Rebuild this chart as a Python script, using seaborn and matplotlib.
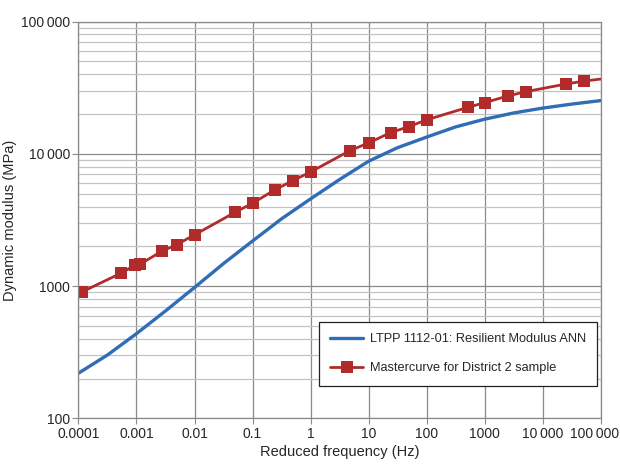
import numpy as np
import seaborn as sns
import matplotlib.pyplot as plt
from matplotlib.ticker import FixedLocator, FuncFormatter, LogLocator, NullFormatter
from matplotlib.transforms import ScaledTranslation

# ANN curve (LTPP 1112-01), read at half-decade steps
ann_freq = [0.0001, 0.000316, 0.001, 0.00316, 0.01, 0.0316, 0.1, 0.316, 1, 3.16,
            10, 31.6, 100, 316, 1000, 3160, 10000, 31600, 100000]
ann_mod = [220, 302, 438, 650, 978, 1483, 2195, 3230, 4570, 6400,
           8800, 11150, 13400, 16000, 18300, 20400, 22200, 23800, 25300]

# mastercurve for district 2 sample
mc_freq = [0.000115, 0.00055, 0.00093, 0.00114, 0.00275, 0.0049, 0.01, 0.05, 0.1,
           0.24, 0.49, 1.0, 4.8, 10, 24, 50, 100, 515, 1000, 2500, 5200,
           25700, 52500, 100000]
mc_mod = [906, 1259, 1438, 1463, 1842, 2058, 2444, 3620, 4235, 5340, 6270, 7300,
          10600, 12100, 14500, 16100, 18100, 22500, 24400, 27400, 29600,
          33800, 35600, 36800]
mc_marked = [True] * 23 + [False]

sns.set_style("white")
plt.rcParams['font.family'] = ['Liberation Sans Narrow', 'Liberation Sans', 'DejaVu Sans']

fig = plt.figure(figsize=(6.2, 4.72), dpi=100)
ax = fig.add_axes([0.1266, 0.1134, 0.842, 0.8407])

blue = '#2f6db5'
red = '#b22b2b'

sns.lineplot(x=ann_freq, y=ann_mod, ax=ax, color=blue, linewidth=2.4,
             label='LTPP 1112-01: Resilient Modulus ANN')
sns.lineplot(x=mc_freq, y=mc_mod, ax=ax, color=red, linewidth=2.0, marker='s',
             markersize=8.5, markeredgewidth=0, markevery=mc_marked,
             label='Mastercurve for District 2 sample')

ax.set_xscale('log')
ax.set_yscale('log')
ax.set_xlim(0.0001, 100000)
ax.set_ylim(100, 100000)

def fmt(v, pos=None):
    if v >= 10000:
        return f"{v:,.0f}".replace(',', '\u2009')
    if v >= 1:
        return f"{v:.0f}"
    return f"{v:.10f}".rstrip('0')

xt = [10.0 ** k for k in range(-4, 6)]
ax.xaxis.set_major_locator(FixedLocator(xt))
ax.xaxis.set_major_formatter(FuncFormatter(fmt))
ax.xaxis.set_minor_locator(FixedLocator([]))
ax.yaxis.set_major_locator(FixedLocator([100, 1000, 10000, 100000]))
ax.yaxis.set_major_formatter(FuncFormatter(fmt))
ax.yaxis.set_minor_locator(LogLocator(base=10, subs=np.arange(2, 10)))
ax.yaxis.set_minor_formatter(NullFormatter())

ax.grid(which='major', color='#8a8a8a', linewidth=0.9)
ax.grid(which='minor', axis='y', color='#c4c4c4', linewidth=0.9)
ax.set_axisbelow(True)
for s in ax.spines.values():
    s.set_color('#8a8a8a')
    s.set_linewidth(0.9)

ax.tick_params(axis='both', which='major', labelsize=10, length=4, color='#8a8a8a',
               direction='out', bottom=True, left=True, pad=2)
ax.tick_params(axis='y', which='minor', length=0)

ax.set_xlabel('Reduced frequency (Hz)', fontsize=10.5, labelpad=3)
ax.set_ylabel('Dynamic modulus (MPa)', fontsize=10.5, labelpad=3)

# keep the last x label inside the figure
fig.canvas.draw()
last = ax.get_xticklabels()[-1]
last.set_transform(last.get_transform() + ScaledTranslation(-0.06, 0, fig.dpi_scale_trans))

leg = ax.legend(loc='lower right', bbox_to_anchor=(0.994, 0.083), fontsize=9.2,
                frameon=True, fancybox=False, edgecolor='#222222', framealpha=1,
                borderpad=0.9, labelspacing=1.3, handlelength=2.6, handletextpad=0.5,
                borderaxespad=0)
leg.get_frame().set_linewidth(0.9)

fig.savefig('out.png', dpi=100)
